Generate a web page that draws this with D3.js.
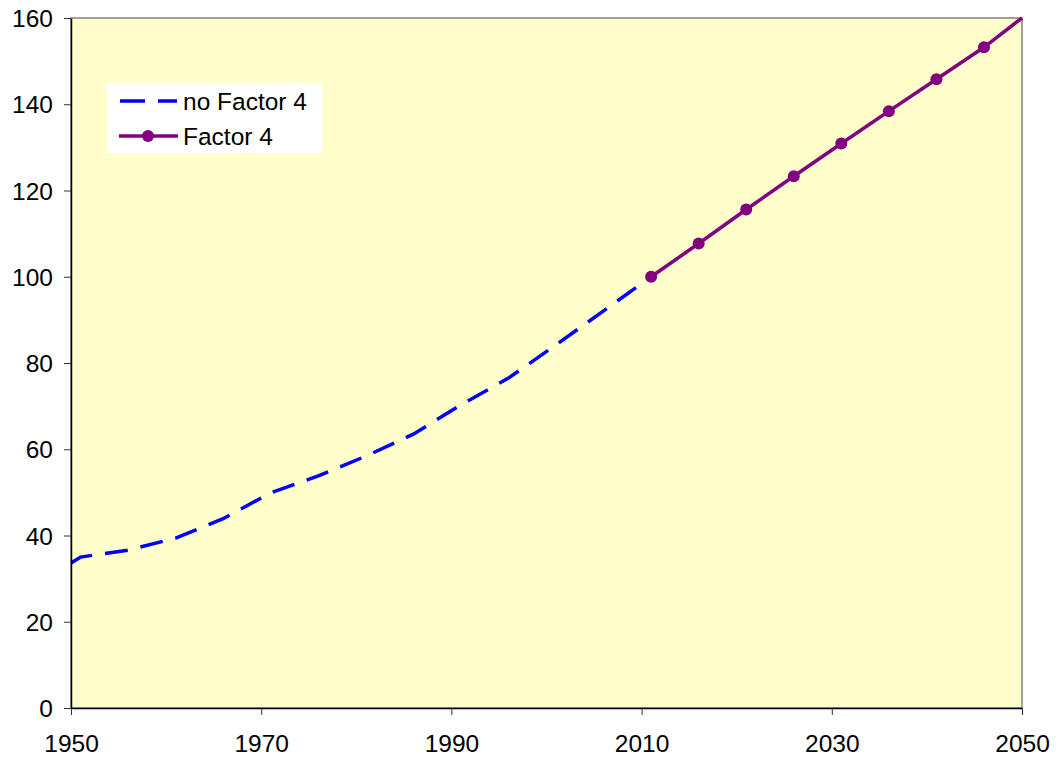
<!DOCTYPE html>
<html>
<head>
<meta charset="utf-8">
<script src="https://cdn.jsdelivr.net/npm/d3@7"></script>
<style>
  body { margin: 0; background: #fff; }
  svg text { font-family: "Liberation Sans", Arial, sans-serif; fill: #000; }
</style>
</head>
<body>
<svg id="chart"></svg>
<script>
// no Factor 4 (dashed blue)
var baseYears = [1950, 1951, 1956, 1961, 1966, 1971, 1976, 1981, 1986, 1991, 1996, 2001, 2006, 2011];
var baseValues = [33.6, 35, 36.6, 39.4, 43.9, 49.9, 53.8, 58.4, 63.5, 70.3, 76.5, 84.2, 92.1, 100];

// Factor 4 (purple with markers)
var f4Years = [2011, 2016, 2021, 2026, 2031, 2036, 2041, 2046, 2050];
var f4Values = [100, 107.7, 115.6, 123.3, 130.9, 138.4, 145.8, 153.2, 160];

var xTicks = [1950, 1970, 1990, 2010, 2030, 2050];
var yTicks = [0, 20, 40, 60, 80, 100, 120, 140, 160];

var seriesNames = ["no Factor 4", "Factor 4"];

var fontSize = 24.5;

var margin = { top: 18, right: 34, bottom: 54, left: 71 },
    width = 1056 - margin.left - margin.right,
    height = 762 - margin.top - margin.bottom;

var svg = d3.select("#chart")
    .attr("width", 1056)
    .attr("height", 762);

var chart = svg.append("g")
    .attr("transform", "translate(" + margin.left + "," + margin.top + ")");

var x = d3.scaleLinear().domain([1950, 2050]).range([0, width]);
var y = d3.scaleLinear().domain([0, 160]).range([height, 0]);

// plot area
chart.append("rect")
    .attr("width", width)
    .attr("height", height)
    .attr("fill", "#FFFFCC")
    .attr("stroke", "#808080")
    .attr("stroke-width", 1.5);

var line = d3.line()
    .x(function(d) { return x(d[0]); })
    .y(function(d) { return y(d[1]); });

var baseData = baseYears.map(function(yr, i) { return [yr, baseValues[i]]; });
var f4Data = f4Years.map(function(yr, i) { return [yr, f4Values[i]]; });

chart.append("path")
    .datum(baseData)
    .attr("d", line)
    .attr("fill", "none")
    .attr("stroke", "#0000FF")
    .attr("stroke-width", 3.5)
    .attr("stroke-dasharray", "23,13");

chart.append("path")
    .datum(f4Data)
    .attr("d", line)
    .attr("fill", "none")
    .attr("stroke", "#800080")
    .attr("stroke-width", 3.5);

chart.selectAll("circle.f4")
    .data(f4Data.filter(function(d) { return d[0] < 2050; }))
    .enter().append("circle")
    .attr("class", "f4")
    .attr("cx", function(d) { return x(d[0]); })
    .attr("cy", function(d) { return y(d[1]); })
    .attr("r", 6)
    .attr("fill", "#800080");

// axes
var xAxis = d3.axisBottom(x).tickValues(xTicks).tickFormat(d3.format("d")).tickSizeInner(7).tickSizeOuter(0);
var yAxis = d3.axisLeft(y).tickValues(yTicks).tickSizeInner(7).tickSizeOuter(0);

var gx = chart.append("g")
    .attr("transform", "translate(0," + height + ")")
    .call(xAxis);
gx.select(".domain").attr("stroke", "#000").attr("stroke-width", 1.5);
gx.selectAll(".tick line").attr("stroke", "#333");
gx.selectAll(".tick text").attr("font-size", fontSize).attr("y", 35).attr("dy", "0.35em");

var gy = chart.append("g").call(yAxis);
gy.select(".domain").attr("stroke", "#000").attr("stroke-width", 1.5);
gy.selectAll(".tick line").attr("stroke", "#333");
gy.selectAll(".tick text").attr("font-size", fontSize).attr("x", -18).attr("dy", "0.35em");

// legend
var legend = svg.append("g").attr("transform", "translate(107,83)");
legend.append("rect")
    .attr("width", 215)
    .attr("height", 70)
    .attr("fill", "#fff");

var row1 = legend.append("g").attr("transform", "translate(0,18)");
row1.append("line")
    .attr("x1", 13).attr("x2", 70)
    .attr("stroke", "#0000FF")
    .attr("stroke-width", 3.5)
    .attr("stroke-dasharray", "25,13");
row1.append("text")
    .attr("x", 76).attr("dy", "0.35em")
    .attr("font-size", fontSize)
    .text(seriesNames[0]);

var row2 = legend.append("g").attr("transform", "translate(0,53)");
row2.append("line")
    .attr("x1", 12).attr("x2", 71)
    .attr("stroke", "#800080")
    .attr("stroke-width", 3.5);
row2.append("circle")
    .attr("cx", 41).attr("r", 6)
    .attr("fill", "#800080");
row2.append("text")
    .attr("x", 76).attr("dy", "0.35em")
    .attr("font-size", fontSize)
    .text(seriesNames[1]);
</script>
</body>
</html>
